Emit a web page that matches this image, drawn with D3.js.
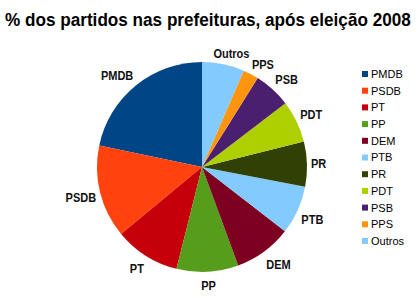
<!DOCTYPE html>
<html>
<head>
<meta charset="utf-8">
<script src="https://cdn.jsdelivr.net/npm/d3@7"></script>
<style>
  body { margin: 0; background: #fff; }
  svg { display: block; }
  text { font-family: 'Liberation Sans', Arial, sans-serif; }
</style>
</head>
<body>
<svg></svg>
<script>
const partidos = ['PMDB', 'PSDB', 'PT', 'PP', 'DEM', 'PTB', 'PR', 'PDT', 'PSB', 'PPS', 'Outros'];
const percentuais = [21.7, 14.3, 10.1, 9.5, 8.9, 7.5, 6.9, 6.5, 5.7, 2.4, 6.5];
const cores = ['#004586', '#ff420e', '#c5000b', '#579d1c', '#7e0021', '#83caff',
  '#314004', '#aecf00', '#4b1f6f', '#ff950e', '#83caff'];

const width = 418, height = 298;
const cx = 202, cy = 167, radius = 105;

const data = partidos.map((p, i) => ({partido: p, valor: percentuais[i], cor: cores[i]}));

const svg = d3.select('svg')
  .attr('width', width)
  .attr('height', height);

// title, squeezed horizontally to fit like the original
const title = svg.append('text')
  .style('font-weight', 'bold')
  .style('font-size', '18.5px')
  .attr('fill', '#000')
  .text('% dos partidos nas prefeituras, após eleição 2008');
const tw = title.node().getComputedTextLength();
const sx = Math.min(1, 406 / tw);
title.attr('transform', `translate(5, 26) scale(${sx}, 1)`);

// pie goes counter-clockwise from 12 o'clock
const pie = d3.pie()
  .sort(null)
  .value(d => d.valor)
  .startAngle(0)
  .endAngle(-2 * Math.PI);

const arc = d3.arc().innerRadius(0).outerRadius(radius);

const g = svg.append('g')
  .attr('transform', `translate(${cx}, ${cy})`);

const arcs = pie(data);

g.selectAll('path')
  .data(arcs)
  .join('path')
    .attr('d', arc)
    .attr('fill', d => d.data.cor);

const clamp = v => Math.max(-1, Math.min(1, v));
const labelR = radius + 4;

g.selectAll('.rotulo')
  .data(arcs)
  .join('text')
    .attr('class', 'rotulo')
    .style('font-weight', 'bold')
    .style('font-size', '12.5px')
    .attr('text-anchor', 'middle')
    .attr('fill', '#111')
    .text(d => d.data.partido)
    .attr('transform', function(d) {
      const a = (d.startAngle + d.endAngle) / 2;
      const s = Math.sin(a), c = -Math.cos(a);
      const w = this.getComputedTextLength() * 0.88;
      const h = c > 0 ? 19 : 13;
      const x = s * labelR + clamp(s * 2) * w / 2;
      const y = c * labelR + clamp(c * 2) * h / 2;
      return `translate(${x}, ${y}) scale(0.88, 1)`;
    })
    .attr('dy', '0.36em');

// legend
const legendaY = d3.scalePoint()
  .domain(partidos)
  .range([74, 241]);

const legenda = svg.append('g');

const itens = legenda.selectAll('g')
  .data(data)
  .join('g')
    .attr('transform', d => `translate(362, ${legendaY(d.partido)})`);

itens.append('rect')
  .attr('x', 0)
  .attr('y', -3)
  .attr('width', 6)
  .attr('height', 6)
  .attr('fill', d => d.cor);

itens.append('text')
  .attr('x', 9)
  .attr('dy', '0.36em')
  .style('font-size', '11px')
  .attr('fill', '#000')
  .text(d => d.partido);
</script>
</body>
</html>
